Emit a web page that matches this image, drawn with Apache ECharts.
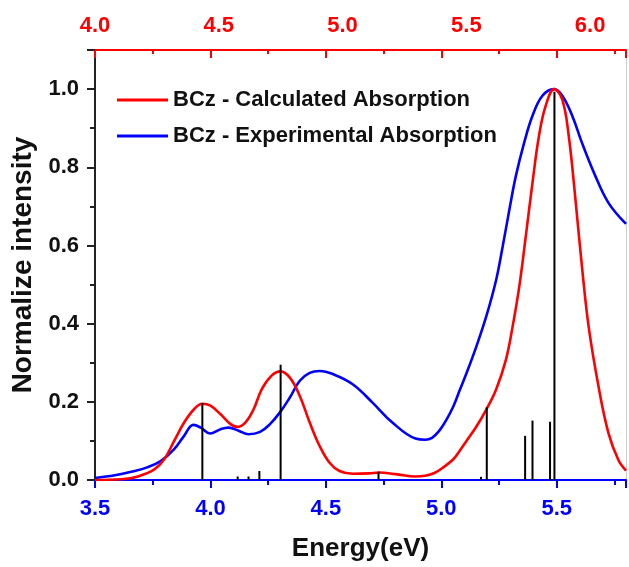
<!DOCTYPE html>
<html>
<head>
<meta charset="utf-8">
<script src="https://cdn.jsdelivr.net/npm/echarts@6/dist/echarts.min.js"></script>
<style>html,body{margin:0;padding:0;background:#fff}#c{width:629px;height:567px}</style>
</head>
<body>
<div id="c"></div>
<script>
// Experimental absorption (blue), bottom energy axis
var expEnergy    = [3.50, 3.586, 3.657, 3.729, 3.786, 3.843, 3.886, 3.926, 3.958, 3.998, 4.044, 4.079, 4.122, 4.165, 4.215, 4.258, 4.301, 4.344, 4.387, 4.430, 4.473, 4.530, 4.616, 4.702, 4.788, 4.888, 4.930, 4.960, 4.990, 5.020, 5.052, 5.080, 5.109, 5.152, 5.195, 5.238, 5.266, 5.295, 5.323, 5.359, 5.395, 5.438, 5.488, 5.524, 5.567, 5.609, 5.667, 5.724, 5.800];
var expIntensity = [0.005, 0.012, 0.021, 0.033, 0.049, 0.079, 0.113, 0.141, 0.134, 0.119, 0.130, 0.134, 0.126, 0.117, 0.123, 0.143, 0.173, 0.211, 0.254, 0.274, 0.279, 0.271, 0.245, 0.198, 0.147, 0.106, 0.103, 0.108, 0.125, 0.152, 0.188, 0.230, 0.273, 0.342, 0.419, 0.513, 0.598, 0.692, 0.778, 0.863, 0.932, 0.983, 1.000, 0.983, 0.932, 0.863, 0.778, 0.709, 0.655];
// Calculated absorption (red)
var calcEnergy    = [3.50, 3.614, 3.686, 3.757, 3.800, 3.843, 3.886, 3.929, 3.965, 4.000, 4.044, 4.087, 4.115, 4.151, 4.187, 4.222, 4.265, 4.303, 4.344, 4.387, 4.430, 4.473, 4.516, 4.559, 4.616, 4.687, 4.730, 4.802, 4.888, 4.930, 4.970, 5.010, 5.052, 5.080, 5.109, 5.150, 5.190, 5.237, 5.280, 5.309, 5.338, 5.366, 5.395, 5.423, 5.452, 5.489, 5.524, 5.552, 5.581, 5.609, 5.638, 5.681, 5.724, 5.767, 5.800];
var calcIntensity = [0.000, 0.002, 0.009, 0.027, 0.053, 0.100, 0.147, 0.181, 0.195, 0.190, 0.168, 0.143, 0.136, 0.147, 0.181, 0.232, 0.267, 0.278, 0.262, 0.215, 0.147, 0.087, 0.044, 0.023, 0.016, 0.017, 0.019, 0.015, 0.009, 0.011, 0.018, 0.033, 0.053, 0.075, 0.100, 0.135, 0.175, 0.231, 0.308, 0.393, 0.496, 0.624, 0.761, 0.880, 0.957, 1.000, 0.973, 0.880, 0.718, 0.547, 0.393, 0.239, 0.120, 0.051, 0.024];
// Calculated transitions (black sticks)
var stickEnergy = [3.965, 4.118, 4.165, 4.212, 4.304, 4.728, 5.172, 5.197, 5.363, 5.395, 5.471, 5.490];
var stickHeight = [0.197, 0.009, 0.009, 0.023, 0.295, 0.021, 0.008, 0.186, 0.113, 0.152, 0.149, 0.993];
// Axis ranges / ticks
var bottomRange = [3.5, 5.8];
var topTickRange = [4.0, 6.3];
var topLabelRange = [4.0, 6.145];
var yRange = [0, 1.1];

function zip(a, b) { return a.map(function (v, i) { return [v, b[i]]; }); }
var FONT = "'Liberation Sans', Arial, sans-serif";
function fmt(step) {
  return function (v) {
    var k = Math.round(v / step);
    return Math.abs(k * step - v) < 1e-6 ? v.toFixed(1) : '';
  };
}

var chart = echarts.init(document.getElementById('c'));
chart.setOption({
  animation: false,
  backgroundColor: '#fff',
  grid: { left: 95, right: 0, top: 50, bottom: 87 },
  legend: {
    left: 112, top: 84, orient: 'vertical', itemGap: 14,
    icon: 'rect', itemWidth: 51, itemHeight: 3,
    textStyle: { fontFamily: FONT, fontWeight: 'bold', fontSize: 22, color: '#111' },
    data: ['BCz - Calculated Absorption', 'BCz - Experimental Absorption']
  },
  xAxis: [
    {
      type: 'value', position: 'bottom', min: bottomRange[0], max: bottomRange[1], interval: 0.5,
      name: 'Energy(eV)', nameLocation: 'middle', nameGap: 56,
      nameTextStyle: { fontFamily: FONT, fontWeight: 'bold', fontSize: 26, color: '#111' },
      axisLine: { show: true, onZero: false, lineStyle: { color: '#0000ff', width: 2 } },
      axisTick: { show: true, inside: false, length: 8, lineStyle: { color: '#0000ff', width: 2 } },
      minorTick: { show: true, splitNumber: 2, length: 5, lineStyle: { color: '#0000ff', width: 2 } },
      axisLabel: { margin: 18, color: '#0000ff', fontFamily: FONT, fontWeight: 'bold', fontSize: 22, formatter: fmt(0.5) },
      splitLine: { show: false }
    },
    {
      type: 'value', position: 'top', min: topTickRange[0], max: topTickRange[1], interval: 0.5,
      axisLine: { show: true, onZero: false, lineStyle: { color: '#ff0000', width: 2 } },
      axisTick: { show: true, inside: true, length: 8, lineStyle: { color: '#ff0000', width: 2 } },
      minorTick: { show: true, splitNumber: 2, length: 4, lineStyle: { color: '#ff0000', width: 2 } },
      axisLabel: { show: false },
      splitLine: { show: false }
    },
    {
      type: 'value', position: 'top', min: topLabelRange[0], max: topLabelRange[1], interval: 0.5,
      axisLine: { show: false, onZero: false },
      axisTick: { show: false },
      axisLabel: { margin: 13, color: '#ff0000', fontFamily: FONT, fontWeight: 'bold', fontSize: 22, formatter: fmt(0.5) },
      splitLine: { show: false }
    }
  ],
  yAxis: [
    {
      type: 'value', position: 'left', min: yRange[0], max: yRange[1], interval: 0.2,
      name: 'Normalize intensity', nameLocation: 'middle', nameGap: 57, nameRotate: 90,
      nameTextStyle: { fontFamily: FONT, fontWeight: 'bold', fontSize: 28, color: '#111' },
      axisLine: { show: true, onZero: false, lineStyle: { color: '#222', width: 2 } },
      axisTick: { show: true, inside: false, length: 8, lineStyle: { color: '#222', width: 2 } },
      minorTick: { show: true, splitNumber: 2, length: 5, lineStyle: { color: '#222', width: 2 } },
      axisLabel: { margin: 16, color: '#111', fontFamily: FONT, fontWeight: 'bold', fontSize: 22, formatter: fmt(0.2) },
      splitLine: { show: false }
    },
    {
      type: 'value', position: 'right', min: yRange[0], max: yRange[1],
      axisLine: { show: true, onZero: false, lineStyle: { color: '#cccccc', width: 1 } },
      axisTick: { show: false }, axisLabel: { show: false }, splitLine: { show: false }
    }
  ],
  series: [
    {
      name: 'BCz - Experimental Absorption', type: 'line', xAxisIndex: 0, yAxisIndex: 0,
      data: zip(expEnergy, expIntensity), smooth: 0.4, showSymbol: false, symbol: 'none',
      lineStyle: { color: '#0000ff', width: 2.6 }, itemStyle: { color: '#0000ff' }, z: 3
    },
    {
      name: 'BCz - Calculated Absorption', type: 'line', xAxisIndex: 0, yAxisIndex: 0,
      data: zip(calcEnergy, calcIntensity), smooth: 0.4, showSymbol: false, symbol: 'none',
      lineStyle: { color: '#ff0000', width: 2.6 }, itemStyle: { color: '#ff0000' }, z: 4
    },
    {
      name: 'Transitions', type: 'bar', xAxisIndex: 0, yAxisIndex: 0,
      data: zip(stickEnergy, stickHeight), barWidth: 2,
      itemStyle: { color: '#000' }, z: 5
    }
  ]
});
</script>
</body>
</html>
